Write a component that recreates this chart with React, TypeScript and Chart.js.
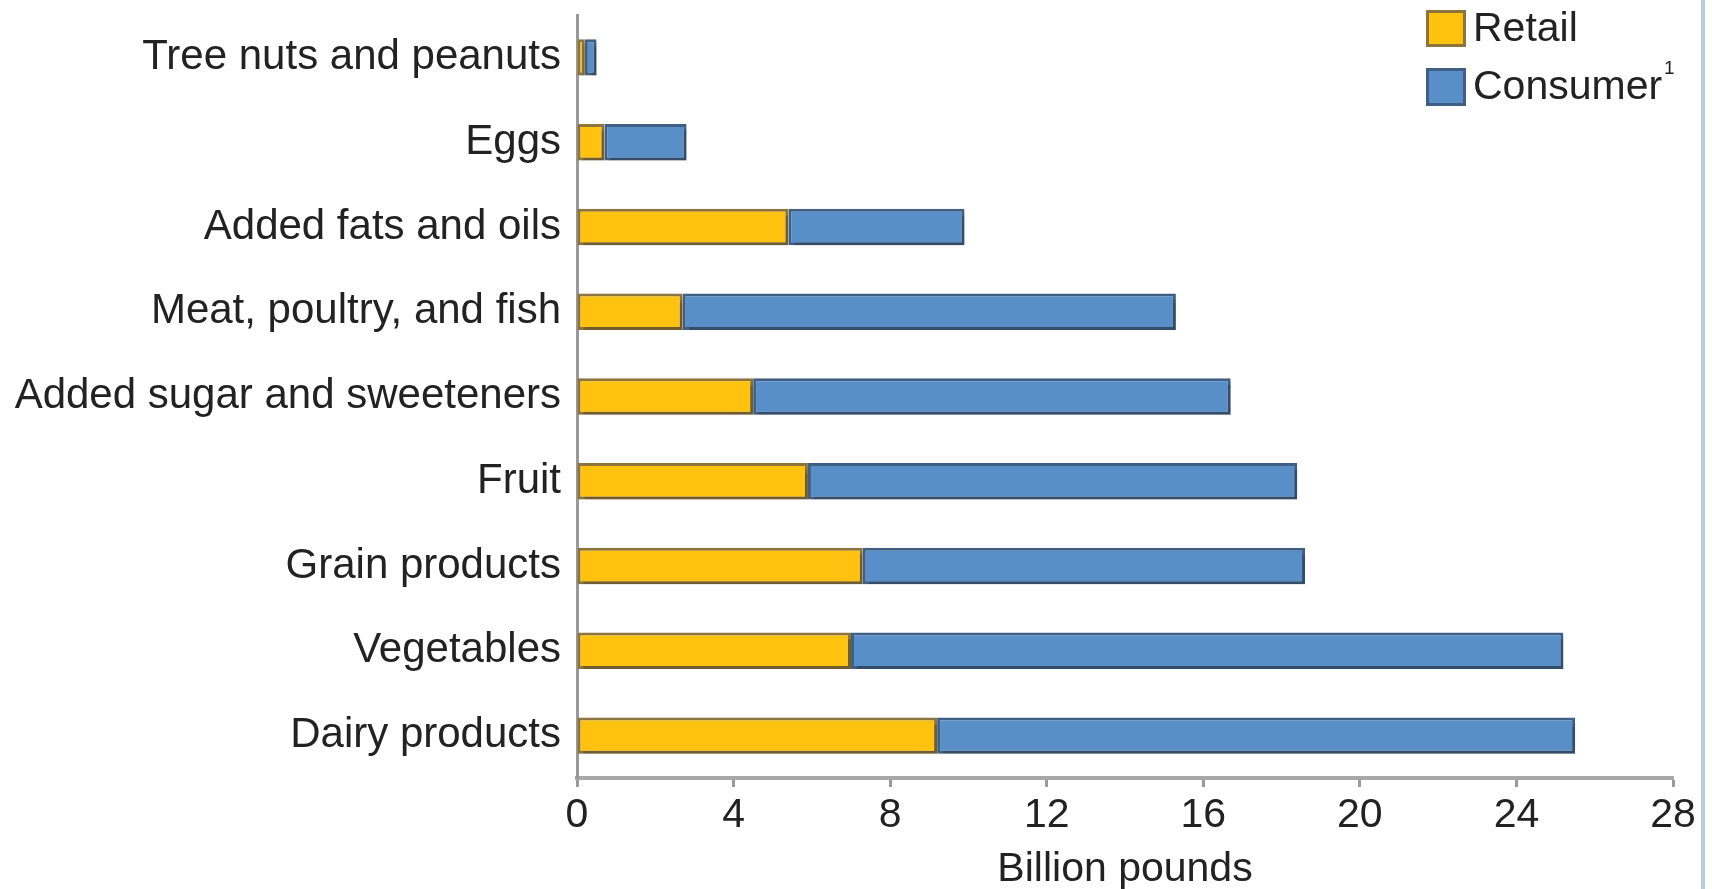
import React, { useEffect, useRef } from "react";
import { Chart, registerables } from "chart.js";

Chart.register(...registerables);

const categories = [
  "Tree nuts and peanuts",
  "Eggs",
  "Added fats and oils",
  "Meat, poultry, and fish",
  "Added sugar and sweeteners",
  "Fruit",
  "Grain products",
  "Vegetables",
  "Dairy products",
];
const retailValues = [0.2, 0.7, 5.4, 2.7, 4.5, 5.9, 7.3, 7.0, 9.2];
const consumerValues = [0.3, 2.1, 4.5, 12.6, 12.2, 12.5, 11.3, 18.2, 16.3];
const xTicks = [0, 4, 8, 12, 16, 20, 24, 28];
const xTitle = "Billion pounds";
const seriesNames = ["Retail", "Consumer"];

const FONT = '"Liberation Sans", Arial, Helvetica, sans-serif';
const YELLOW = "#FFC20E";
const YELLOW_BORDER = "#8C743C";
const BLUE = "#588FC9";
const BLUE_BORDER = "#3F5F84";
const TEXT = "#222222";

export default function App() {
  const ref = useRef<HTMLCanvasElement>(null);

  useEffect(() => {
    if (!ref.current) return;
    const shadowPlugin = {
      id: "barShadow",
      beforeDatasetsDraw(chart: any) {
        const ctx = chart.ctx;
        ctx.save();
        ctx.shadowColor = "rgba(0,0,0,0.2)";
        ctx.shadowOffsetX = 3;
        ctx.shadowOffsetY = 4;
        ctx.shadowBlur = 1;
      },
      afterDatasetsDraw(chart: any) {
        chart.ctx.restore();
      },
    };
    const chart = new Chart(ref.current, {
      type: "bar",
      data: {
        labels: categories,
        datasets: [
          {
            label: seriesNames[0],
            data: retailValues,
            backgroundColor: YELLOW,
            borderColor: YELLOW_BORDER,
            borderWidth: 3,
            borderSkipped: false,
            barPercentage: 0.43,
            categoryPercentage: 1,
          },
          {
            label: seriesNames[1],
            data: consumerValues,
            backgroundColor: BLUE,
            borderColor: BLUE_BORDER,
            borderWidth: 3,
            borderSkipped: false,
            barPercentage: 0.43,
            categoryPercentage: 1,
          },
        ],
      },
      options: {
        indexAxis: "y",
        responsive: false,
        animation: false,
        devicePixelRatio: 1,
        layout: { padding: { left: 0, right: 39, top: 15, bottom: 0 } },
        plugins: {
          legend: { display: false },
          tooltip: { enabled: false },
        },
        scales: {
          x: {
            stacked: true,
            min: 0,
            max: 28,
            afterBuildTicks: (scale: any) => {
              scale.ticks = xTicks.map((v) => ({ value: v }));
            },
            afterFit: (scale: any) => {
              scale.height = 111;
            },
            grid: {
              drawOnChartArea: false,
              drawTicks: true,
              tickLength: 9,
              tickWidth: 3,
              tickColor: "#9a9a9a",
            },
            border: { display: true, color: "#a8a8a8", width: 4 },
            ticks: {
              padding: 4,
              color: TEXT,
              font: { family: FONT, size: 41, lineHeight: 1.2 },
              maxRotation: 0,
            },
            title: {
              display: true,
              text: xTitle,
              color: TEXT,
              font: { family: FONT, size: 41, lineHeight: 1.2 },
              padding: { top: -5, bottom: -5 },
            },
          },
          y: {
            stacked: true,
            afterFit: (scale: any) => {
              scale.width = 577;
              scale.paddingTop = 0;
              scale.paddingBottom = 0;
            },
            grid: { display: false, drawTicks: false },
            border: { display: true, color: "#999999", width: 3 },
            ticks: {
              padding: 16,
              color: TEXT,
              font: { family: FONT, size: 42, lineHeight: 1.2 },
            },
          },
        },
      },
      plugins: [shadowPlugin],
    } as any);
    return () => chart.destroy();
  }, []);

  const legendText: React.CSSProperties = {
    position: "absolute",
    fontFamily: FONT,
    fontSize: 41,
    lineHeight: "41px",
    color: TEXT,
    whiteSpace: "nowrap",
  };

  return (
    <div
      style={{
        position: "fixed",
        left: 0,
        top: 0,
        width: 1712,
        height: 889,
        background: "#fff",
        overflow: "hidden",
      }}
    >
      <canvas ref={ref} width={1712} height={889} style={{ display: "block" }} />
      <div
        style={{
          position: "absolute",
          left: 1426,
          top: 10,
          width: 40,
          height: 37,
          boxSizing: "border-box",
          background: YELLOW,
          border: `3px solid ${YELLOW_BORDER}`,
        }}
      />
      <div style={{ ...legendText, left: 1473, top: 7 }}>{seriesNames[0]}</div>
      <div
        style={{
          position: "absolute",
          left: 1426,
          top: 68,
          width: 40,
          height: 38,
          boxSizing: "border-box",
          background: BLUE,
          border: `3px solid ${BLUE_BORDER}`,
        }}
      />
      <div style={{ ...legendText, left: 1473, top: 65 }}>{seriesNames[1]}</div>
      <div
        style={{
          position: "absolute",
          left: 1664,
          top: 58,
          fontFamily: FONT,
          fontSize: 19,
          lineHeight: "19px",
          color: TEXT,
        }}
      >
        1
      </div>
      <div
        style={{
          position: "absolute",
          left: 1701,
          top: 0,
          width: 4,
          height: 889,
          background: "#B8CCE4",
        }}
      />
    </div>
  );
}
